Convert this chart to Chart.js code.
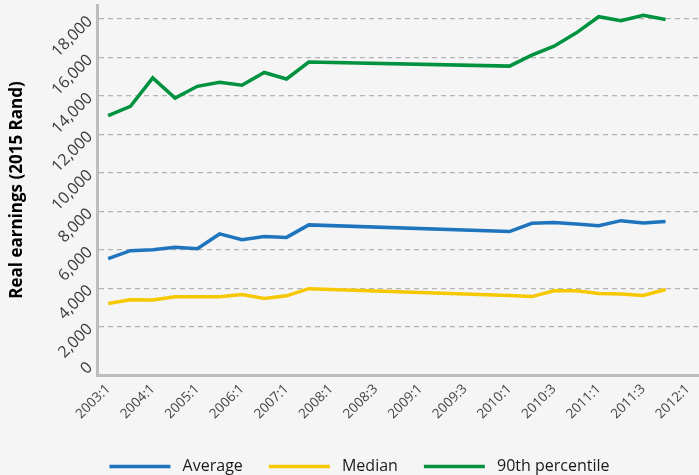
<!DOCTYPE html>
<html>
<head>
<meta charset="utf-8">
<script src="https://cdn.jsdelivr.net/npm/chart.js@4/dist/chart.umd.min.js"></script>
<style>
  html, body { margin: 0; padding: 0; background: #f5f5f5; }
  #wrap { width: 699px; height: 475px; }
</style>
</head>
<body>
<div id="wrap"><canvas id="earningsChart" width="699" height="475"></canvas></div>
<script>
// survey periods (half-yearly LFS to 2007, then quarterly QLFS)
const periods = [
  '2003:1', '2003:2', '2004:1', '2004:2', '2005:1', '2005:2', '2006:1', '2006:2',
  '2007:1', '2007:2', '2008:1', '2008:2', '2008:3', '2008:4', '2009:1', '2009:2',
  '2009:3', '2009:4', '2010:1', '2010:2', '2010:3', '2010:4', '2011:1', '2011:2',
  '2011:3', '2011:4', '2012:1'
];

// no observations between 2007:2 and 2010:1 (line is joined across the gap)
const average = [5530, 5950, 6000, 6120, 6050, 6820, 6520, 6680, 6640, 7290,
  null, null, null, null, null, null, null, null,
  6940, 7370, 7420, 7340, 7250, 7510, 7390, 7460, null];
const median = [3200, 3390, 3380, 3550, 3550, 3550, 3670, 3460, 3600, 3970,
  null, null, null, null, null, null, null, null,
  3610, 3560, 3860, 3860, 3720, 3690, 3620, 3930, null];
const p90 = [12980, 13460, 14940, 13890, 14500, 14710, 14560, 15220, 14880, 15760,
  null, null, null, null, null, null, null, null,
  15550, 16120, 16590, 17280, 18120, 17910, 18190, 17980, null];

const yTicks = [0, 2000, 4000, 6000, 8000, 10000, 12000, 14000, 16000, 18000];

function lineSet(label, data, color) {
  return {
    label: label,
    data: data,
    borderColor: color,
    backgroundColor: color,
    borderWidth: 3.5,
    pointRadius: 0,
    pointHoverRadius: 0,
    tension: 0,
    spanGaps: true
  };
}

// nudge the legend a little right, like the original
const legendShift = {
  id: 'legendShift',
  afterLayout(chart) {
    chart.legend.left += 10;
    chart.legend.right += 10;
  }
};

const ctx = document.getElementById('earningsChart').getContext('2d');
new Chart(ctx, {
  type: 'line',
  data: {
    labels: periods,
    datasets: [
      lineSet('Average', average, '#1f75bd'),
      lineSet('Median', median, '#f5c800'),
      lineSet('90th percentile', p90, '#00923f')
    ]
  },
  plugins: [legendShift],
  options: {
    responsive: false,
    animation: false,
    layout: { padding: { top: 5, right: 0, left: 0, bottom: -9.5 } },
    plugins: {
      tooltip: { enabled: false },
      legend: {
        position: 'bottom',
        labels: {
          usePointStyle: true,
          pointStyle: 'line',
          pointStyleWidth: 61,
          padding: 26,
          color: '#1a1a1a',
          font: { family: 'Open Sans', size: 16 },
          generateLabels: function (chart) {
            const items = Chart.defaults.plugins.legend.labels.generateLabels(chart);
            items.forEach(it => { it.text = ' ' + it.text; });
            return items;
          }
        }
      }
    },
    scales: {
      x: {
        offset: true,
        grid: { display: false, drawTicks: false },
        border: { display: true, color: '#bdbdbd', width: 3 },
        ticks: {
          autoSkip: false,
          minRotation: 45,
          maxRotation: 45,
          padding: 6,
          color: '#444',
          font: { family: 'Open Sans', size: 13.5 },
          callback: function (val, i) { return i % 2 === 0 ? periods[i] : ''; }
        },
        afterFit: function (scale) {
          scale.height = 57.5;
          scale.paddingLeft = 0;
          scale.paddingRight = 0;
        }
      },
      y: {
        min: -520,
        max: 18730,
        afterBuildTicks: function (scale) {
          scale.ticks = yTicks.map(v => ({ value: v }));
        },
        grid: {
          drawTicks: false,
          lineWidth: 1.2,
          color: c => (c.tick && c.tick.value === 0 ? 'rgba(0,0,0,0)' : '#b4b4b4')
        },
        border: { display: true, color: '#bdbdbd', width: 3, dash: [5, 4] },
        ticks: {
          minRotation: 45,
          maxRotation: 45,
          padding: 7,
          color: '#3a3a3a',
          font: { family: 'Open Sans', size: 16 },
          callback: v => v.toLocaleString('en-US')
        },
        title: {
          display: true,
          text: 'Real earnings (2015 Rand)',
          color: '#000',
          font: { family: 'Open Sans', size: 17, weight: 'bold' },
          padding: { top: 7, bottom: 0 }
        },
        afterFit: function (scale) {
          scale.width = 97;
          scale.paddingTop = 0;
          scale.paddingBottom = 0;
        }
      }
    }
  }
});
</script>
</body>
</html>
